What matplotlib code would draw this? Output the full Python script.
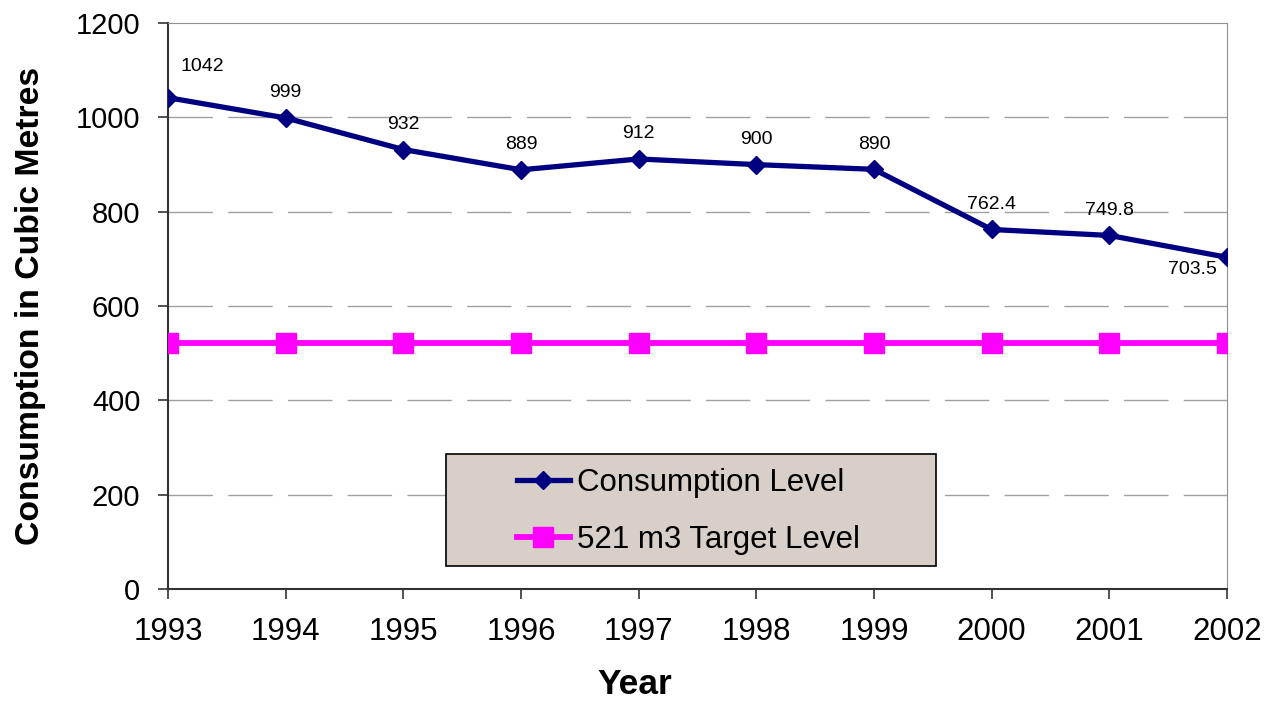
import matplotlib.pyplot as plt
from matplotlib.patches import Rectangle

plt.rcParams['font.family'] = ['Liberation Sans', 'DejaVu Sans']

# Dados
anos = [1993, 1994, 1995, 1996, 1997, 1998, 1999, 2000, 2001, 2002]
consumo = [1042, 999, 932, 889, 912, 900, 890, 762.4, 749.8, 703.5]
rotulos = ['1042', '999', '932', '889', '912', '900', '890', '762.4', '749.8', '703.5']
meta = [521] * len(anos)

fig = plt.figure(figsize=(12.79, 7.02), dpi=100)
ax = fig.add_axes([0.1314, 0.161, 0.8279, 0.806])

# grade tracejada
for v in [200, 400, 600, 800, 1000]:
    ax.axhline(v, color='#a0a0a0', lw=1, dashes=(32, 11), zorder=0)

ax.plot(anos, consumo, color='#000080', lw=3.8, marker='D', markersize=9.5,
        label='Consumption Level', zorder=3)
ax.plot(anos, meta, color='#ff00ff', lw=4.2, marker='s', markersize=14.4,
        label='521 m3 Target Level', zorder=3)

# rótulos dos pontos
for i in range(len(anos)):
    if i == 0:
        ax.annotate(rotulos[i], (anos[i], consumo[i]), xytext=(25, 16),
                    textcoords='offset points', ha='center', va='bottom', fontsize=14)
    elif i == len(anos) - 1:
        ax.annotate(rotulos[i], (anos[i], consumo[i]), xytext=(-25, -3),
                    textcoords='offset points', ha='center', va='top', fontsize=14)
    else:
        ax.annotate(rotulos[i], (anos[i], consumo[i]), xytext=(0, 12),
                    textcoords='offset points', ha='center', va='bottom', fontsize=14)

ax.set_xlim(1993, 2002)
ax.set_ylim(0, 1200)
ax.set_xticks(anos)
ax.set_yticks(range(0, 1201, 200))
ax.tick_params(axis='both', direction='out', length=7, width=1.2, color='#333333')
ax.tick_params(axis='x', labelsize=22.5, pad=13)
ax.tick_params(axis='y', labelsize=21, pad=13)

ax.spines['top'].set_color('#909090')
ax.spines['right'].set_color('#909090')
ax.spines['left'].set_color('#333333')
ax.spines['bottom'].set_color('#333333')
ax.spines['left'].set_linewidth(1.5)
ax.spines['bottom'].set_linewidth(1.5)

fig.text(635 / 1279, 1 - 684 / 702, 'Year', fontsize=25.5, fontweight='bold',
         ha='center', va='center')
fig.text(31 / 1279, 1 - 306 / 702, 'Consumption in Cubic Metres', fontsize=24.3,
         fontweight='bold', rotation=90, ha='center', va='center')

# caixa da legenda
caixa = Rectangle((0.2625, 0.0406), 0.4627, 0.1979, transform=ax.transAxes,
                  facecolor='#d7cfc8', edgecolor='black', lw=1.2, zorder=4)
ax.add_patch(caixa)
leg = ax.legend(loc='center', bbox_to_anchor=(0.4915, 0.137), fontsize=22.5,
                frameon=False, borderpad=0, handlelength=1.7, handletextpad=0.25,
                labelspacing=0.85)
leg.set_zorder(5)

fig.savefig('out.png', dpi=100)
